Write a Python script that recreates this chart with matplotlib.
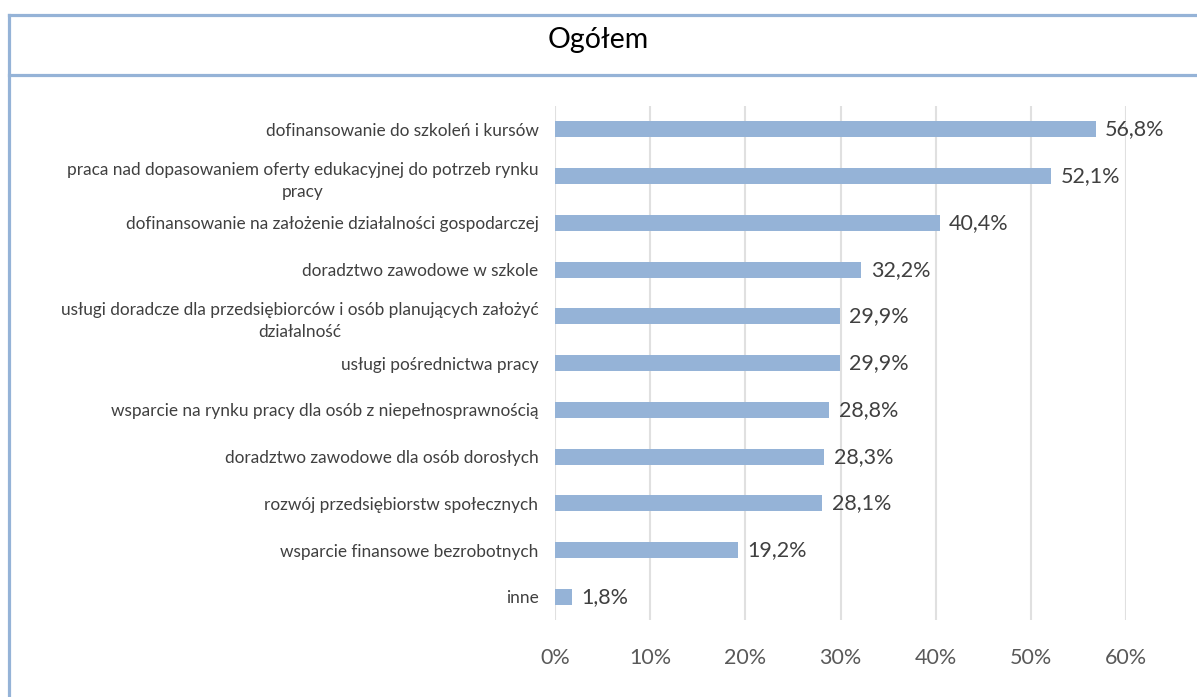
import matplotlib.pyplot as plt
from matplotlib.lines import Line2D

categories = [
    'dofinansowanie do szkoleń i kursów',
    'praca nad dopasowaniem oferty edukacyjnej do potrzeb rynku\npracy',
    'dofinansowanie na założenie działalności gospodarczej',
    'doradztwo zawodowe w szkole',
    'usługi doradcze dla przedsiębiorców i osób planujących założyć\ndziałalność',
    'usługi pośrednictwa pracy',
    'wsparcie na rynku pracy dla osób z niepełnosprawnością',
    'doradztwo zawodowe dla osób dorosłych',
    'rozwój przedsiębiorstw społecznych',
    'wsparcie finansowe bezrobotnych',
    'inne',
]
values = [56.8, 52.1, 40.4, 32.2, 29.9, 29.9, 28.8, 28.3, 28.1, 19.2, 1.8]
xticks = [0, 10, 20, 30, 40, 50, 60]

plt.rcParams['font.family'] = ['Lato', 'DejaVu Sans']

fig = plt.figure(figsize=(11.97, 6.97), dpi=100)
ax = fig.add_axes([0.4637, 0.110, 0.4770, 0.738])

bar_color = '#95B3D7'
pos = list(range(len(categories)))[::-1]
ax.barh(pos, values, height=0.34, color=bar_color, zorder=3)

for p, v in zip(pos, values):
    ax.text(v + 1.0, p, ('%.1f' % v).replace('.', ',') + '%', va='center', ha='left',
            fontsize=15.5, color='#404040')

ax.set_yticks(pos)
ax.set_yticklabels(categories, fontsize=12.4, color='#404040',
                   multialignment='center', linespacing=1.5)
ax.set_ylim(-0.5, len(categories) - 0.5)
ax.set_xlim(0, 60)
ax.set_xticks(xticks)
ax.set_xticklabels([str(t) + '%' for t in xticks], fontsize=15.5, color='#595959')
ax.tick_params(axis='both', length=0)
ax.tick_params(axis='y', pad=12)
ax.tick_params(axis='x', pad=20)
ax.grid(axis='x', color='#E0E0E0', linewidth=1.5, zorder=0)
for s in ax.spines.values():
    s.set_visible(False)

# frame around chart
frame_color = '#95B3D7'
fig.add_artist(Line2D([0.0075, 0.0075], [0, 0.979], color=frame_color, lw=2.3,
                      transform=fig.transFigure))
fig.add_artist(Line2D([0.0075, 1], [0.979, 0.979], color=frame_color, lw=2.3,
                      transform=fig.transFigure))
fig.add_artist(Line2D([0.0075, 1], [0.893, 0.893], color=frame_color, lw=2.3,
                      transform=fig.transFigure))

fig.text(0.5, 0.943, 'Ogółem', ha='center', va='center', fontsize=20.5, color='black')

fig.savefig('out.png', dpi=100)
